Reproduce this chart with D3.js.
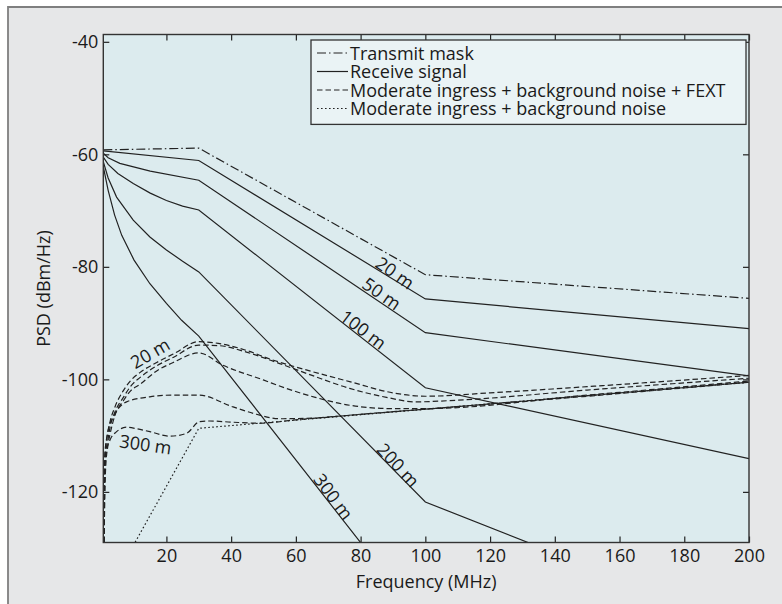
<!DOCTYPE html>
<html><head><meta charset="utf-8">
<script src="https://cdn.jsdelivr.net/npm/d3@7"></script>
<style>
html,body{margin:0;padding:0;background:#fff;}
text{font-family:"Open Sans","Noto Sans",sans-serif;fill:#1a1a1a;}
</style></head>
<body>
<svg id="chart" width="782" height="604"></svg>
<script>
// ---- data ----
const freqTicks = [20,40,60,80,100,120,140,160,180,200];
const psdTicks = [-40,-60,-80,-100,-120];
const freqDomain = [0.5,200];
const psdDomain = [-129,-38.7];

const transmitMask = [[0.5,-59.2],[30,-58.9],[100,-81.4],[200,-85.6]];

const rx20  = [[0.5,-59.4],[30,-61.1],[100,-85.7],[200,-91.0]];
const rx50  = [[0.5,-59.8],[2,-60.6],[5.6,-61.6],[15,-63.0],[30,-64.6],[100,-91.7],[200,-99.4]];
const rx100 = [[0.5,-60.5],[2,-61.8],[5,-63.4],[9.75,-65.2],[15,-66.9],[20,-68.2],[25,-69.2],[30,-69.9],[100,-101.5],[200,-114.1]];
const rx200 = [[0.5,-61.3],[2,-64.2],[4.6,-67.6],[9.75,-71.7],[14.9,-74.7],[20,-77.0],[25,-79.0],[30,-80.9],[100,-121.8],[200,-144.5]];
const rx300 = [[0.5,-62.2],[2,-66.4],[4,-70.8],[6.2,-74.4],[10,-78.8],[14.9,-83.0],[20,-86.5],[24.7,-89.5],[30,-92.3],[100,-143.7]];

const fext20  = [[0.6,-135],[1.0,-113],[1.6,-110.5],[2.6,-107.5],[4.1,-104.9],[6.7,-102.0],[9,-100.2],[11.8,-98.8],[17,-97.0],[22.1,-95.5],[30,-93.3],[36,-93.6],[45,-94.9],[52,-96.4],[60,-97.8],[76.6,-100.4],[90,-102.4],[100,-103.0],[120,-102.4],[150,-101.3],[200,-99.3]];
const fext50  = [[0.6,-135],[1.1,-114],[2,-110.5],[2.6,-108.5],[4.1,-105.8],[6.7,-103.2],[9,-101.2],[11.8,-99.7],[17,-97.6],[22.1,-96.1],[30,-93.9],[36,-94.0],[45,-95.2],[55,-97.2],[65,-99.3],[76.6,-101.6],[88,-103.2],[97,-104.0],[110,-103.7],[150,-101.9],[200,-99.8]];
const fext100 = [[0.6,-135],[1.2,-116],[2,-111.5],[2.6,-109.7],[4.1,-106.4],[6.7,-103.8],[9,-102.0],[11.8,-100.9],[17,-98.5],[22.1,-97.0],[30,-95.3],[37.5,-97.5],[49.9,-100.1],[57,-101.6],[66,-103.2],[76.6,-104.6],[90,-105.2],[100,-105.2],[150,-102.8],[200,-100.3]];
const fext200 = [[0.6,-135],[1.0,-113.8],[2.0,-109],[3.6,-106.7],[7.7,-104.0],[14.9,-103.1],[22,-102.8],[30,-102.8],[40.6,-104.9],[47.8,-106.2],[55,-107.0],[65,-106.9],[80,-106.2],[100,-105.3],[150,-102.9],[200,-100.5]];
const fext300 = [[0.6,-135],[1.0,-116],[1.54,-112.6],[2.56,-110.8],[4.6,-109.3],[7.7,-108.5],[11,-108.8],[14.9,-109.3],[21.1,-110.1],[26.2,-109.6],[30.3,-107.5],[33.4,-107.4],[40,-107.6],[48.8,-107.8],[60,-107.2],[100,-105.3],[150,-103.0],[200,-100.5]];
const background = [[0.5,-129],[10.3,-129],[30,-108.7],[200,-100.5]];

const legendLabels = ["Transmit mask","Receive signal","Moderate ingress + background noise + FEXT","Moderate ingress + background noise"];
// annotation labels: [text, freq, psd, angle]
const annotations = [
  ["20 m",90.7,-81.0,35],["50 m",86.6,-84.7,35],["100 m",80.9,-91.1,37],
  ["200 m",91.7,-115.2,47],["300 m",71.7,-120.8,53],
  ["20 m",14.9,-95.3,-30],["300 m",13.6,-111.5,8]
];

// ---- drawing ----
const svg = d3.select("#chart");
const L = 103.3, R = 749, T = 34.5, B = 542.5;
const x = d3.scaleLinear().domain(freqDomain).range([L,R]);
const y = d3.scaleLinear().domain(psdDomain).range([B,T]);

// outer frame
svg.append("rect").attr("x",8).attr("y",7).attr("width",782).attr("height",604).attr("fill","#e6e7e8");
svg.append("path").attr("d","M8,604V7H782").attr("fill","none").attr("stroke","#7f7f7f").attr("stroke-width",1.8);

// plot bg
svg.append("rect").attr("x",L).attr("y",T).attr("width",R-L).attr("height",B-T).attr("fill","#dcebee");

svg.append("clipPath").attr("id","clip").append("rect").attr("x",L).attr("y",T).attr("width",R-L).attr("height",B-T);

const fmt = d => String(d);
const tickStyle = g => { g.select(".domain").remove(); g.selectAll(".tick line").attr("stroke","#222").attr("stroke-width",1.2); g.selectAll("text").style("font-size","18px").attr("fill","#1a1a1a"); };
svg.append("g").attr("transform",`translate(0,${B})`).call(d3.axisBottom(x).tickValues(freqTicks).tickFormat(fmt).tickSize(-6).tickPadding(7)).call(tickStyle);
svg.append("g").attr("transform",`translate(0,${T})`).call(d3.axisTop(x).tickValues(freqTicks).tickFormat("").tickSize(-6)).call(tickStyle);
svg.append("g").attr("transform",`translate(${L},0)`).call(d3.axisLeft(y).tickValues(psdTicks).tickFormat(fmt).tickSize(-6).tickPadding(5)).call(tickStyle);
svg.append("g").attr("transform",`translate(${R},0)`).call(d3.axisRight(y).tickValues(psdTicks).tickFormat("").tickSize(-6)).call(tickStyle);

const lineLin = d3.line().x(d=>x(d[0])).y(d=>y(d[1]));
const lineSm = d3.line().x(d=>x(d[0])).y(d=>y(d[1])).curve(d3.curveMonotoneX);
const plot = svg.append("g").attr("clip-path","url(#clip)");
const stroke = "#222";
const styles = {
  mask:{dash:"9,3,1.5,3"}, rx:{dash:null}, fext:{dash:"5.5,3"}, bg:{dash:"1.6,2.4"}
};
function draw(data, gen, st){
  plot.append("path").attr("d",gen(data)).attr("fill","none").attr("stroke",stroke)
    .attr("stroke-width",1.2).attr("stroke-dasharray",st.dash);
}
draw(background, lineLin, styles.bg);
[fext20,fext50,fext100,fext200,fext300].forEach(d=>draw(d, lineSm, styles.fext));
[rx20,rx50,rx100,rx200,rx300].forEach(d=>draw(d, lineLin, styles.rx));
draw(transmitMask, lineLin, styles.mask);

// plot frame
svg.append("rect").attr("x",L).attr("y",T).attr("width",R-L).attr("height",B-T).attr("fill","none").attr("stroke","#333").attr("stroke-width",1.4);

// annotations
annotations.forEach(a=>{
  svg.append("text").attr("transform",`translate(${x(a[1])},${y(a[2])}) rotate(${a[3]})`)
    .attr("text-anchor","middle").attr("dominant-baseline","central")
    .style("font-size","18px").text(a[0]);
});

// axis titles
svg.append("text").attr("x",(L+R)/2).attr("y",588).attr("text-anchor","middle").style("font-size","18px").text("Frequency (MHz)");
svg.append("text").attr("transform",`translate(50,${(T+B)/2}) rotate(-90)`).attr("text-anchor","middle").style("font-size","18px").text("PSD (dBm/Hz)");

// legend
const lg = svg.append("g");
lg.append("rect").attr("x",311).attr("y",40).attr("width",435).attr("height",84.4).attr("fill","#eaf3f5").attr("stroke","#333").attr("stroke-width",1.3);
const legDash = [styles.mask.dash, null, styles.fext.dash, styles.bg.dash];
legendLabels.forEach((t,i)=>{
  const by = 59.5 + i*18.5;
  lg.append("line").attr("x1",317).attr("x2",348).attr("y1",by-6.5).attr("y2",by-6.5)
    .attr("stroke",stroke).attr("stroke-width",1.2).attr("stroke-dasharray",legDash[i]);
  lg.append("text").attr("x",350).attr("y",by).style("font-size","18px").text(t);
});
</script>
</body></html>
